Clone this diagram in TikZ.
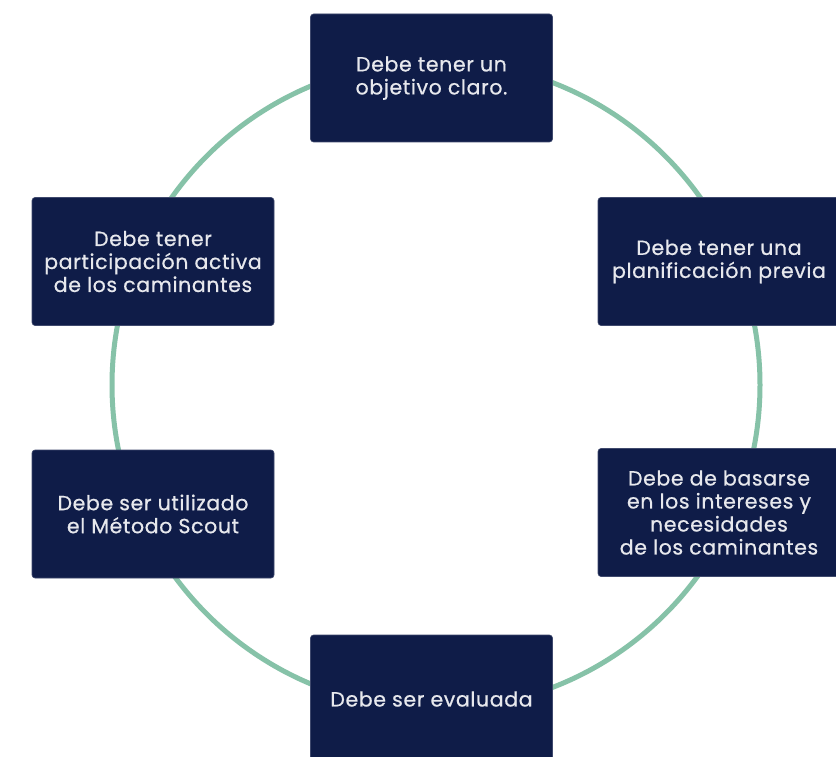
\documentclass[tikz,border=0pt]{standalone}
\usepackage{fontspec}
\setmainfont{Poppins}[FakeBold=0.6,LetterSpace=3]
\definecolor{ring}{HTML}{86C2A8}
\definecolor{navy}{HTML}{0F1C48}
\begin{document}
\begin{tikzpicture}[x=1pt,y=-1pt,
  card/.style={draw=navy!80!white, line width=0.6pt, fill=navy, rounded corners=3pt,
    minimum width=242pt, minimum height=128pt, inner sep=0pt,
    text=white!90!navy, align=center,
    font=\fontsize{20.5}{23}\selectfont},
  ringline/.style={draw=ring, line width=5pt}]
\useasboundingbox (0,0) rectangle (836,757);
\fill[white] (0,0) rectangle (836,757);
\coordinate (c) at (436,385);
\draw[ringline] (c) circle[radius=324pt];
\node[card] (top) at (431.5,78) {Debe tener un\\objetivo claro.};
\node[card] (lu) at (153,261.5) {Debe tener\\participación activa\\de los caminantes};
\node[card] (ll) at (153,514) {Debe ser utilizado\\el Método Scout};
\node[card] (ru) at (719,261.5) {Debe tener una\\planificación previa};
\node[card] (rl) at (719,512.5) {Debe de basarse\\en los intereses y\\necesidades\\de los caminantes};
\node[card] (bot) at (431.5,699) {Debe ser evaluada};
\end{tikzpicture}
\end{document}
